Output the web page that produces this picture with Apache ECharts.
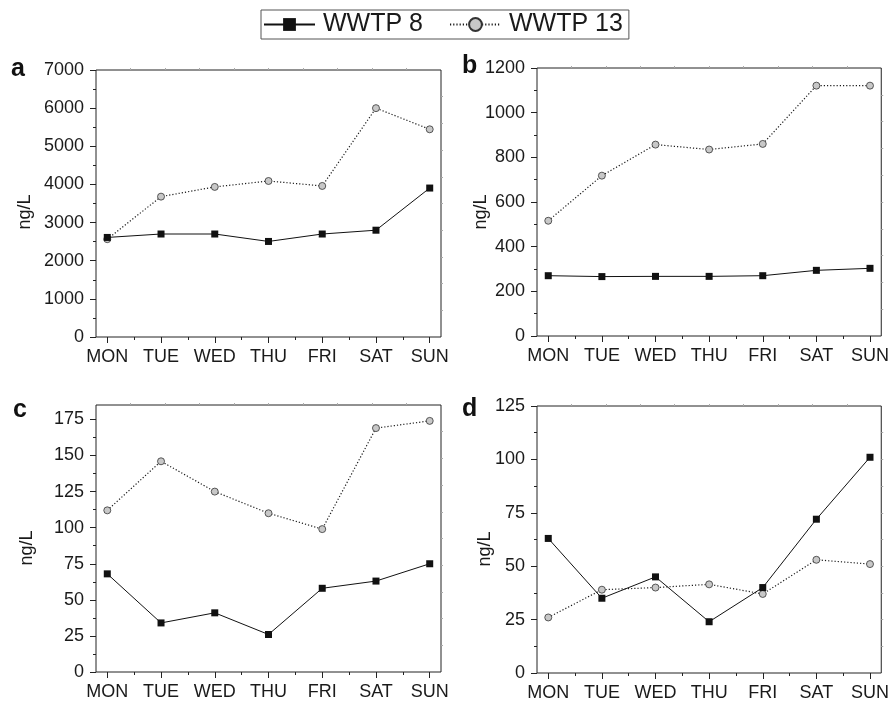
<!DOCTYPE html>
<html>
<head>
<meta charset="utf-8">
<title>WWTP 8 / WWTP 13 weekly concentrations</title>
<script src="https://cdn.jsdelivr.net/npm/echarts@6/dist/echarts.min.js"></script>
<style>
  html, body { margin: 0; padding: 0; background: #fff; }
  #chart { width: 892px; height: 703px; }
</style>
</head>
<body>
<div id="chart"></div>
<script>
// Days of the week on every x axis
const days = ['MON', 'TUE', 'WED', 'THU', 'FRI', 'SAT', 'SUN'];

// Panel a
const aWwtp8  = [2610, 2700, 2700, 2505, 2700, 2800, 3905];
const aWwtp13 = [2565, 3680, 3935, 4090, 3960, 6000, 5445];
const aTicks  = [0, 1000, 2000, 3000, 4000, 5000, 6000, 7000];

// Panel b
const bWwtp8  = [270, 266, 267, 267, 270, 294, 303];
const bWwtp13 = [516, 718, 857, 835, 860, 1121, 1121];
const bTicks  = [0, 200, 400, 600, 800, 1000, 1200];

// Panel c
const cWwtp8  = [68, 34, 41, 26, 58, 63, 75];
const cWwtp13 = [112, 146, 125, 110, 99, 169, 174];
const cTicks  = [0, 25, 50, 75, 100, 125, 150, 175];

// Panel d
const dWwtp8  = [63, 35, 45, 24, 40, 72, 101];
const dWwtp13 = [26, 39, 40, 41.5, 37, 53, 51];
const dTicks  = [0, 25, 50, 75, 100, 125];

const FONT = "'Liberation Sans', Arial, Helvetica, sans-serif";
const INK = '#1a1a1a';

const panels = [
  { letter: 'a', w8: aWwtp8, w13: aWwtp13, ticks: aTicks, max: 7000, minor: 500,
    grid: { left: 96, top: 70, width: 345, height: 267 },
    letterPos: [11, 69], unitPos: [25, 212] },
  { letter: 'b', w8: bWwtp8, w13: bWwtp13, ticks: bTicks, max: 1200, minor: 100,
    grid: { left: 537, top: 68, width: 345, height: 268 },
    letterPos: [462, 66], unitPos: [481, 212] },
  { letter: 'c', w8: cWwtp8, w13: cWwtp13, ticks: cTicks, max: 185, minor: 12.5,
    grid: { left: 96, top: 405, width: 345, height: 267 },
    letterPos: [13, 410], unitPos: [27, 548] },
  { letter: 'd', w8: dWwtp8, w13: dWwtp13, ticks: dTicks, max: 125, minor: 12.5,
    grid: { left: 537, top: 406, width: 345, height: 267 },
    letterPos: [462, 409], unitPos: [485, 549] }
];

const dayIdx = days.map((d, i) => i);
const halfIdx = days.slice(1).map((d, i) => i + 0.5);
const tenths = [1, 2, 3, 4, 5, 6, 7, 8, 9];

const hiddenLine = { show: false, onZero: false };
const grids = [], xAxes = [], yAxes = [], series = [], graphics = [];

panels.forEach((p, gi) => {
  grids.push(Object.assign({ show: true, borderColor: '#222', borderWidth: 1,
    backgroundColor: 'transparent', containLabel: false }, p.grid));

  const xMain = xAxes.length;
  // bottom axis: day labels and major ticks
  xAxes.push({
    gridIndex: gi, type: 'value', position: 'bottom', min: -0.21, max: 6.21,
    axisLine: hiddenLine, splitLine: { show: false },
    axisTick: { show: true, customValues: dayIdx, length: 6, inside: false,
      lineStyle: { color: '#222', width: 1 } },
    axisLabel: { show: true, customValues: dayIdx, margin: 11,
      formatter: v => days[Math.round(v)], fontFamily: FONT, fontSize: 18, color: INK }
  });
  // bottom axis: minor ticks between days
  xAxes.push({
    gridIndex: gi, type: 'value', position: 'bottom', min: -0.21, max: 6.21,
    axisLine: hiddenLine, splitLine: { show: false },
    axisTick: { show: true, customValues: halfIdx, length: 3,
      lineStyle: { color: '#222', width: 1 } },
    axisLabel: { show: false }
  });
  // faint ticks along the top edge
  xAxes.push({
    gridIndex: gi, type: 'value', position: 'top', min: 0, max: 10,
    axisLine: hiddenLine, splitLine: { show: false },
    axisTick: { show: true, customValues: tenths, length: 2,
      lineStyle: { color: '#aaa', width: 1 } },
    axisLabel: { show: false }
  });

  const yMain = yAxes.length;
  const minors = [];
  for (let v = p.minor; v < p.max; v += p.minor * 2) minors.push(v);
  yAxes.push({
    gridIndex: gi, type: 'value', position: 'left', min: 0, max: p.max,
    axisLine: hiddenLine, splitLine: { show: false },
    axisTick: { show: true, customValues: p.ticks, length: 6,
      lineStyle: { color: '#222', width: 1 } },
    axisLabel: { show: true, customValues: p.ticks, margin: 12,
      formatter: v => String(v), fontFamily: FONT, fontSize: 18, color: INK }
  });
  yAxes.push({
    gridIndex: gi, type: 'value', position: 'left', min: 0, max: p.max,
    axisLine: hiddenLine, splitLine: { show: false },
    axisTick: { show: true, customValues: minors, length: 3,
      lineStyle: { color: '#222', width: 1 } },
    axisLabel: { show: false }
  });
  // faint ticks along the right edge
  yAxes.push({
    gridIndex: gi, type: 'value', position: 'right', min: 0, max: 10,
    axisLine: hiddenLine, splitLine: { show: false },
    axisTick: { show: true, customValues: tenths, length: 2,
      lineStyle: { color: '#aaa', width: 1 } },
    axisLabel: { show: false }
  });

  series.push({
    name: 'WWTP 8', type: 'line', xAxisIndex: xMain, yAxisIndex: yMain,
    data: p.w8.map((v, i) => [i, v]),
    symbol: 'rect', symbolSize: 7,
    itemStyle: { color: '#111' },
    lineStyle: { color: '#111', width: 1 },
    emphasis: { disabled: true }, animation: false, z: 3
  });
  series.push({
    name: 'WWTP 13', type: 'line', xAxisIndex: xMain, yAxisIndex: yMain,
    data: p.w13.map((v, i) => [i, v]),
    symbol: 'circle', symbolSize: 7,
    itemStyle: { color: '#c8c8c8', borderColor: '#333', borderWidth: 0.8 },
    lineStyle: { color: '#1a1a1a', width: 1.2, type: [1.2, 2] },
    emphasis: { disabled: true }, animation: false, z: 2
  });

  graphics.push({
    type: 'text', x: p.letterPos[0], y: p.letterPos[1],
    style: { text: p.letter, font: 'bold 25px ' + FONT, fill: '#111',
      textAlign: 'left', textVerticalAlign: 'middle' }
  });
  graphics.push({
    type: 'text', x: p.unitPos[0], y: p.unitPos[1], rotation: Math.PI / 2,
    style: { text: 'ng/L', font: '18px ' + FONT, fill: INK,
      textAlign: 'center', textVerticalAlign: 'middle' }
  });
});

const chart = echarts.init(document.getElementById('chart'), null, { renderer: 'canvas' });
chart.setOption({
  animation: false,
  backgroundColor: '#fff',
  legend: {
    data: ['WWTP 8', 'WWTP 13'],
    left: 261, top: 10,
    orient: 'horizontal',
    itemWidth: 51, itemHeight: 16, itemGap: 26,
    padding: [2, 6, 2, 2],
    borderColor: '#555', borderWidth: 1,
    selectedMode: false,
    textStyle: { fontFamily: FONT, fontSize: 25, color: INK, padding: [0, 0, 0, 3] }
  },
  grid: grids,
  xAxis: xAxes,
  yAxis: yAxes,
  series: series,
  graphic: graphics
});
</script>
</body>
</html>
